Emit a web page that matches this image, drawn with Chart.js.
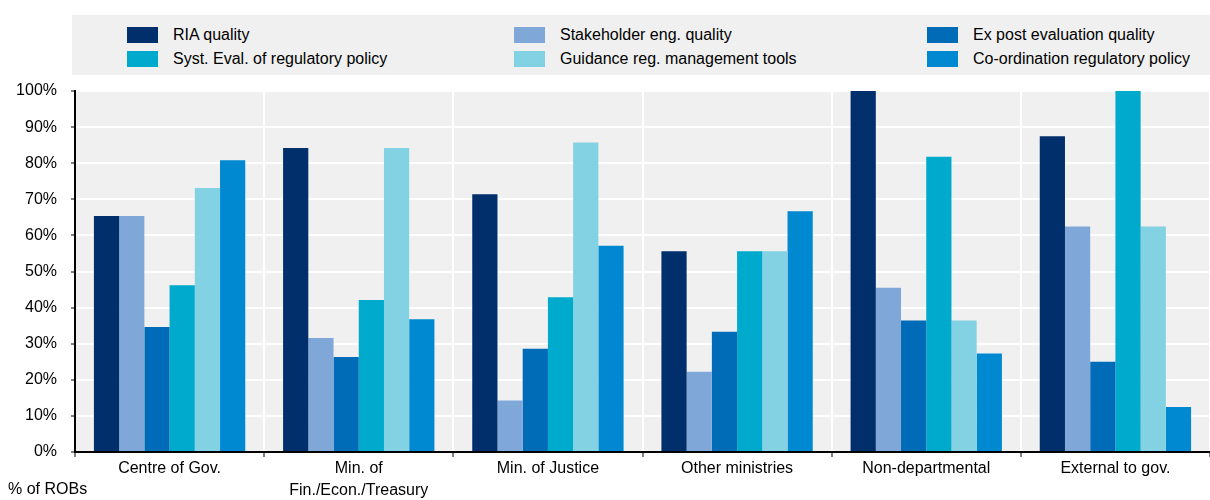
<!DOCTYPE html>
<html>
<head>
<meta charset="utf-8">
<script src="https://cdn.jsdelivr.net/npm/chart.js@4.4.1/dist/chart.umd.min.js"></script>
<style>
  html, body { margin: 0; padding: 0; background: #fff; }
  body { width: 1210px; height: 500px; position: relative; overflow: hidden;
         font-family: "Liberation Sans", Arial, sans-serif; color: #000; }
  #legend { position: absolute; left: 72px; top: 15px; width: 1138px; height: 60px; background: #f0f0f0; }
  .item { position: absolute; height: 18px; line-height: 18px; font-size: 16px; white-space: nowrap; }
  .item span.sw { position: absolute; left: 0; top: 1px; width: 31px; height: 16px; }
  .item span.tx { position: absolute; left: 46px; top: 0; }
  #unit { position: absolute; left: 8px; top: 480px; font-size: 16px; }
  #wrap { position: absolute; left: 0; top: 0; width: 1210px; height: 500px; }
</style>
</head>
<body>
<div id="wrap"><canvas id="chart" width="1210" height="500"></canvas></div>
<div id="legend"></div>
<div id="unit">% of ROBs</div>
<script>
// categories (x axis)
const categories = [
  'Centre of Gov.',
  ['Min. of', 'Fin./Econ./Treasury'],
  'Min. of Justice',
  'Other ministries',
  'Non-departmental',
  'External to gov.'
];

// series, % of ROBs
const riaQuality = [65.4, 84.2, 71.4, 55.6, 100, 87.5];
const stakeholderQuality = [65.4, 31.6, 14.3, 22.2, 45.5, 62.5];
const expostQuality = [34.6, 26.3, 28.6, 33.3, 36.4, 25.0];
const systEval = [46.2, 42.1, 42.9, 55.6, 81.8, 100];
const guidanceTools = [73.1, 84.2, 85.7, 55.6, 36.4, 62.5];
const coordination = [80.8, 36.8, 57.1, 66.7, 27.3, 12.5];

const seriesNames = [
  'RIA quality', 'Stakeholder eng. quality', 'Ex post evaluation quality',
  'Syst. Eval. of regulatory policy', 'Guidance reg. management tools', 'Co-ordination regulatory policy'
];
const seriesColors = ['#002f6c', '#7fa8d9', '#006bb6', '#00aacc', '#83d2e3', '#0088d1'];
const seriesData = [riaQuality, stakeholderQuality, expostQuality, systEval, guidanceTools, coordination];

// y ticks
const yMax = 100;
const yStep = 10;

// legend, 3 columns x 2 rows
const legend = document.getElementById('legend');
const colX = [55, 442, 855];
const rowY = [11, 35];
seriesNames.forEach((name, i) => {
  const el = document.createElement('div');
  el.className = 'item';
  el.style.left = colX[i % 3] + 'px';
  el.style.top = rowY[Math.floor(i / 3)] + 'px';
  el.innerHTML = '<span class="sw" style="background:' + seriesColors[i] + '"></span><span class="tx">' + name + '</span>';
  legend.appendChild(el);
});

// plot background
const plotBg = {
  id: 'plotBg',
  beforeDraw(chart) {
    const a = chart.chartArea, ctx = chart.ctx;
    ctx.save();
    ctx.fillStyle = '#f0f0f0';
    ctx.fillRect(a.left, a.top, a.right - a.left, a.bottom - a.top);
    ctx.restore();
  }
};

Chart.defaults.font.family = '"Liberation Sans", Arial, sans-serif';
Chart.defaults.font.size = 16;
Chart.defaults.color = '#000';

new Chart(document.getElementById('chart'), {
  type: 'bar',
  data: {
    labels: categories,
    datasets: seriesData.map((d, i) => ({
      label: seriesNames[i],
      data: d,
      backgroundColor: seriesColors[i],
      borderWidth: 0
    }))
  },
  options: {
    responsive: false,
    animation: false,
    datasets: { bar: { categoryPercentage: 0.8, barPercentage: 1.0 } },
    layout: { padding: { top: 91, right: 0, left: 0, bottom: 0 } },
    plugins: { legend: { display: false }, tooltip: { enabled: false } },
    scales: {
      x: {
        offset: true,
        grid: { color: '#fff', lineWidth: 2, tickColor: '#000', tickLength: 5, tickWidth: 1, offset: true },
        border: { color: '#000', width: 2 },
        ticks: { padding: 1, maxRotation: 0, autoSkip: false, font: { size: 16, lineHeight: 1.35 } },
        afterFit(s) { s.height = 48; }
      },
      y: {
        min: 0,
        max: yMax,
        grid: { color: '#fff', lineWidth: 2, tickColor: '#000', tickLength: 4, tickWidth: 1 },
        border: { color: '#000', width: 2 },
        ticks: { stepSize: yStep, padding: 14, callback: v => v + '%' },
        afterFit(s) { s.width = 75; }
      }
    }
  },
  plugins: [plotBg]
});
</script>
</body>
</html>
